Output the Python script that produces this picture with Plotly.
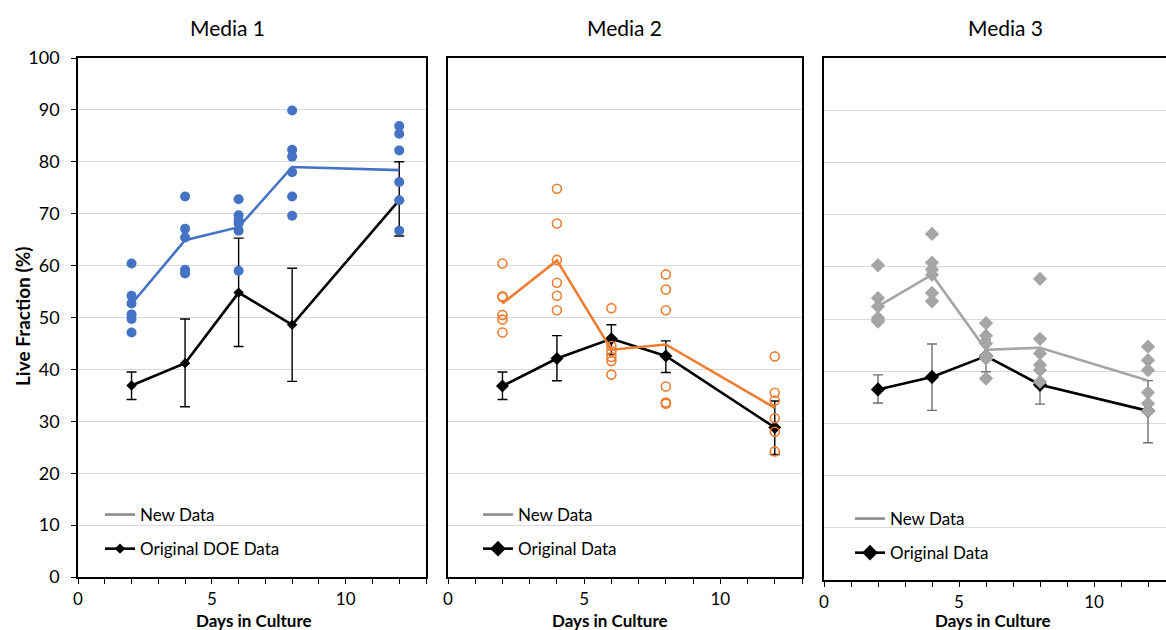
import plotly.graph_objects as go

W, H = 1166, 630

days = [2, 4, 6, 8, 12]

# Media 1 (New Data: individual points and mean line; Original DOE Data with error bars)
m1_points = [
    [60.4, 54.2, 52.7, 50.6, 49.7, 47.1],
    [73.3, 67.1, 65.4, 59.2, 58.5],
    [72.8, 69.7, 68.8, 68.1, 66.7, 59.0],
    [89.9, 82.3, 81.0, 78.0, 73.3, 69.6],
    [86.9, 85.4, 82.2, 76.1, 72.6, 66.7],
]
m1_new_mean = [52.6, 64.9, 67.4, 79.0, 78.4]
m1_orig = [36.9, 41.2, 54.8, 48.6, 72.6]
m1_orig_hi = [39.5, 49.7, 65.3, 59.5, 80.0]
m1_orig_lo = [34.2, 32.8, 44.4, 37.7, 65.7]

# Media 2
m2_points = [
    [60.4, 54.1, 53.9, 50.5, 49.6, 47.1],
    [74.8, 68.1, 61.1, 56.7, 54.2, 51.4],
    [51.8, 44.5, 43.5, 42.4, 41.6, 39.0],
    [58.3, 55.4, 51.4, 36.7, 33.6, 33.4],
    [42.5, 35.5, 34.0, 30.6, 28.0, 24.2],
]
m2_new_mean = [52.7, 61.0, 43.8, 44.8, 32.6]
m2_orig = [36.8, 42.1, 45.9, 42.6, 28.8]
m2_orig_hi = [39.5, 46.5, 48.6, 45.5, 33.9]
m2_orig_lo = [34.2, 37.8, 42.9, 39.4, 23.6]

# Media 3
m3_points = [
    [60.3, 54.0, 52.4, 50.2, 49.8, 49.5],
    [66.3, 60.8, 59.5, 58.5, 55.0, 53.4],
    [49.2, 46.8, 45.3, 42.9, 42.4, 38.6],
    [57.7, 46.2, 43.4, 41.2, 40.2, 38.0],
    [44.7, 42.1, 40.2, 35.9, 33.8, 32.4],
]
m3_new_mean = [52.4, 58.5, 44.1, 44.5, 38.2]
m3_orig = [36.5, 38.9, 42.9, 37.4, 32.4]
m3_orig_hi = [39.3, 45.2, 46.0, 41.0, 38.2]
m3_orig_lo = [33.9, 32.5, 39.9, 33.7, 26.3]

panel_titles = ["Media 1", "Media 2", "Media 3"]
orig_names = ["Original DOE Data", "Original Data", "Original Data"]
x_title = "Days in Culture"
y_title = "Live Fraction (%)"
x_tick_labels = {0: "0", 5: "5", 10: "10"}

FONT = "Lato, 'Open Sans', sans-serif"
BLUE, ORANGE, GRAY = "#4472C4", "#ED7D31", "#A5A5A5"

fig = go.Figure()

def flatten(points):
    xs, ys = [], []
    for d, pts in zip(days, points):
        xs += [d] * len(pts)
        ys += pts
    return xs, ys

panels = [
    dict(points=m1_points, mean=m1_new_mean, orig=m1_orig, hi=m1_orig_hi, lo=m1_orig_lo,
         color=BLUE, sym="circle", msize=10, open=False, errcol="#000000", omsize=8),
    dict(points=m2_points, mean=m2_new_mean, orig=m2_orig, hi=m2_orig_hi, lo=m2_orig_lo,
         color=ORANGE, sym="circle-open", msize=9, open=True, errcol="#000000", omsize=10),
    dict(points=m3_points, mean=m3_new_mean, orig=m3_orig, hi=m3_orig_hi, lo=m3_orig_lo,
         color=GRAY, sym="diamond", msize=11, open=False, errcol="#6f6f6f", omsize=11),
]

for i, p in enumerate(panels):
    ax = "" if i == 0 else str(i + 1)
    xa, ya = "x" + ax, "y" + ax
    fig.add_trace(go.Scatter(
        x=days, y=p["orig"], mode="lines+markers", xaxis=xa, yaxis=ya,
        line=dict(color="black", width=2.6),
        marker=dict(symbol="diamond", size=p["omsize"], color="black"),
        error_y=dict(type="data", symmetric=False,
                     array=[h - v for h, v in zip(p["hi"], p["orig"])],
                     arrayminus=[v - l for v, l in zip(p["orig"], p["lo"])],
                     color=p["errcol"], thickness=1.4, width=5),
        showlegend=False, hoverinfo="skip"))
    px_, py_ = flatten(p["points"])
    fig.add_trace(go.Scatter(
        x=px_, y=py_, mode="markers", xaxis=xa, yaxis=ya,
        marker=dict(symbol=p["sym"], size=p["msize"], color=p["color"],
                    line=dict(width=1.6 if p["open"] else 0, color=p["color"])),
        showlegend=False))
    fig.add_trace(go.Scatter(
        x=days, y=p["mean"], mode="lines", xaxis=xa, yaxis=ya,
        line=dict(color=p["color"], width=2.6), showlegend=False))
    lg = "legend" if i == 0 else "legend" + str(i + 1)
    fig.add_trace(go.Scatter(
        x=[None], y=[None], mode="lines", xaxis=xa, yaxis=ya, name="New Data",
        line=dict(color="#8c8c8c", width=2.6), legend=lg, legendgroup="a%d" % i))
    fig.add_trace(go.Scatter(
        x=[None], y=[None], mode="lines+markers", xaxis=xa, yaxis=ya, name=orig_names[i],
        line=dict(color="black", width=2.6),
        marker=dict(symbol="diamond", size=8 if i == 0 else 12, color="black"),
        legend=lg, legendgroup="b%d" % i))

def px2x(px):
    return px / W

def px2y(py):
    return 1 - py / H

doms_x = [(78, 426), (448, 802), (824, 1166)]
doms_y = [(58, 577), (58, 577), (58, 580)]
xranges = [[0, 13], [0, 13], [0, (1166 - 824) / 27.0]]

layout = dict(
    width=W, height=H, margin=dict(l=0, r=0, t=0, b=0, autoexpand=False),
    paper_bgcolor="white", plot_bgcolor="white",
    font=dict(family=FONT, size=16, color="black"),
)
for i in range(3):
    ax = "" if i == 0 else str(i + 1)
    xmax = 13 if i < 2 else 12
    tv = list(range(0, xmax + 1))
    tt = [x_tick_labels.get(v, "") for v in tv]
    layout["xaxis" + ax] = dict(
        domain=[px2x(doms_x[i][0]), px2x(doms_x[i][1])], range=xranges[i],
        tickvals=tv, ticktext=tt, ticks="outside", ticklen=5, tickwidth=1.2,
        tickcolor="black", showline=True, linecolor="black", linewidth=1.6,
        mirror=True, showgrid=False, zeroline=False, anchor="y" + ax,
        tickfont=dict(size=17), ticklabelstandoff=1, automargin=False)
    layout["yaxis" + ax] = dict(
        domain=[px2y(doms_y[i][1]), px2y(doms_y[i][0])], range=[0, 100],
        dtick=10, showgrid=True, gridcolor="#d9d9d9", gridwidth=1.3,
        showline=True, linecolor="black", linewidth=1.6,
        mirror=(i < 2), zeroline=False, anchor="x" + ax,
        ticks="outside" if i == 0 else "", ticklen=5, tickwidth=1.2, tickcolor="black",
        showticklabels=(i == 0), tickfont=dict(size=18), ticklabelstandoff=8,
        automargin=False)

leg_pos = [(100, 497), (478, 497), (850, 501)]
for i in range(3):
    key = "legend" if i == 0 else "legend" + str(i + 1)
    layout[key] = dict(x=px2x(leg_pos[i][0]), y=px2y(leg_pos[i][1]), xanchor="left",
                       yanchor="top", bgcolor="rgba(0,0,0,0)", tracegroupgap=9,
                       font=dict(size=17, family=FONT), itemwidth=30)

fig.update_layout(**layout)

annots = []
title_x = [227, 624, 1005]
for i in range(3):
    annots.append(dict(text=panel_titles[i], x=px2x(title_x[i]), y=px2y(28), xref="paper",
                       yref="paper", showarrow=False, font=dict(size=21),
                       xanchor="center", yanchor="middle"))
xt_x = [254, 610, 993]
for i in range(3):
    annots.append(dict(text="<b>%s</b>" % x_title, x=px2x(xt_x[i]), y=px2y(620.5),
                       xref="paper", yref="paper", showarrow=False, font=dict(size=17),
                       xanchor="center", yanchor="middle"))
annots.append(dict(text="<b>%s</b>" % y_title, x=px2x(22), y=px2y(317), xref="paper",
                   yref="paper", showarrow=False, textangle=-90, font=dict(size=19),
                   xanchor="center", yanchor="middle"))
fig.update_layout(annotations=annots)

fig.write_html("out.html")
